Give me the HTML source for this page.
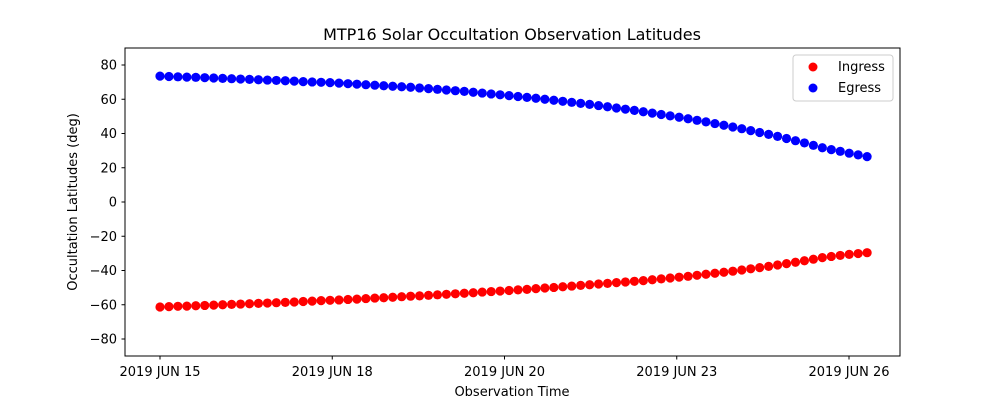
<!DOCTYPE html>
<html><head><meta charset="utf-8"><style>
body{margin:0;background:#fff;}
svg{display:block;font-family:"DejaVu Sans","Liberation Sans",sans-serif;}
</style></head><body>
<svg id="chart" width="1000" height="400">
<text x="512" y="40" text-anchor="middle" font-size="16">MTP16 Solar Occultation Observation Latitudes</text>
<g id="plot"></g>
<rect x="125" y="48" width="775" height="308" fill="none" stroke="#000" stroke-width="1"/>
<text x="512" y="396" text-anchor="middle" font-size="13">Observation Time</text>
<text transform="translate(77,202) rotate(-90)" text-anchor="middle" font-size="13">Occultation Latitudes (deg)</text>
<g>
<rect x="793" y="55" width="100" height="46" rx="3" fill="#fff" stroke="#ccc"/>
<circle cx="813" cy="67" r="4.5" fill="red"/>
<text x="838" y="71" font-size="13">Ingress</text>
<circle cx="813" cy="88" r="4.5" fill="blue"/>
<text x="838" y="92" font-size="13">Egress</text>
</g>
</svg>
<script>
const xTickLabels=["2019 JUN 15","2019 JUN 18","2019 JUN 20","2019 JUN 23","2019 JUN 26"];
const xTickValues=[0,1,2,3,4];
const yTickValues=[80,60,40,20,0,-20,-40,-60,-80];
const egress=[73.5,73.3,73.1,72.9,72.8,72.6,72.4,72.2,72.0,71.8,71.6,71.4,71.2,71.0,70.8,70.6,70.3,70.1,69.9,69.7,
69.4,69.1,68.8,68.5,68.2,67.9,67.6,67.3,67.0,66.6,66.2,65.8,65.4,65.0,64.6,64.1,63.6,63.1,62.6,
62.1,61.6,61.1,60.6,60.0,59.4,58.8,58.2,57.6,57.0,56.3,55.6,54.9,54.2,53.5,52.7,51.9,51.1,50.3,
49.5,48.6,47.7,46.8,45.8,44.8,43.8,42.8,41.7,40.6,39.5,38.3,37.1,35.8,34.5,33.1,31.7,30.6,29.6,28.5,27.5,26.5];
const ingress=[-61.3,-61.1,-60.9,-60.8,-60.6,-60.4,-60.2,-60.0,-59.8,-59.6,-59.4,-59.2,-59.0,-58.8,-58.6,-58.4,-58.1,-57.9,-57.6,-57.4,
-57.2,-56.9,-56.7,-56.4,-56.1,-55.9,-55.6,-55.3,-55.0,-54.8,-54.5,-54.2,-53.9,-53.6,-53.3,-53.0,-52.6,-52.3,-52.0,
-51.7,-51.3,-51.0,-50.6,-50.2,-49.9,-49.5,-49.1,-48.7,-48.3,-47.9,-47.5,-47.1,-46.7,-46.3,-45.9,-45.4,-44.9,-44.4,
-43.9,-43.4,-42.8,-42.2,-41.6,-41.0,-40.4,-39.7,-39.0,-38.3,-37.6,-36.8,-36.0,-35.2,-34.3,-33.4,-32.5,-31.8,-31.2,-30.6,-30.1,-29.6];
const xStart=0, xEnd=4.105;
const NS="http://www.w3.org/2000/svg";
function xs(v){return 160+v*172.25;}
function ys(v){return 202-v*1.7125;}
const g=document.getElementById('plot');
function mk(tag,attrs){const e=document.createElementNS(NS,tag);for(const k in attrs)e.setAttribute(k,attrs[k]);g.appendChild(e);return e;}
yTickValues.forEach(v=>{
 const t=mk('line',{x1:121.5,x2:125,y1:ys(v),y2:ys(v),stroke:'#000'});
 
 
 const l=mk('text',{x:117,y:ys(v)+4.5,'text-anchor':'end','font-size':13});
 l.textContent=v===0?'0':(v<0?'\u2212'+(-v):String(v));
 
 
});
xTickValues.forEach((v,i)=>{
 const t=mk('line',{x1:xs(v),x2:xs(v),y1:356,y2:359.5,stroke:'#000'});
 
 
 const l=mk('text',{x:xs(v),y:376,'text-anchor':'middle','font-size':13});
 l.textContent=xTickLabels[i];
 
 
});
function series(arr,color,name){
 const n=arr.length;
 arr.forEach((v,i)=>{
  const t=xStart+(xEnd-xStart)*i/(n-1);
  const c=mk('circle',{cx:xs(t),cy:ys(v),r:4.6,fill:color});
  
  
 });
}
series(ingress,'red','ingress-point');
series(egress,'blue','egress-point');
</script>
</body></html>
